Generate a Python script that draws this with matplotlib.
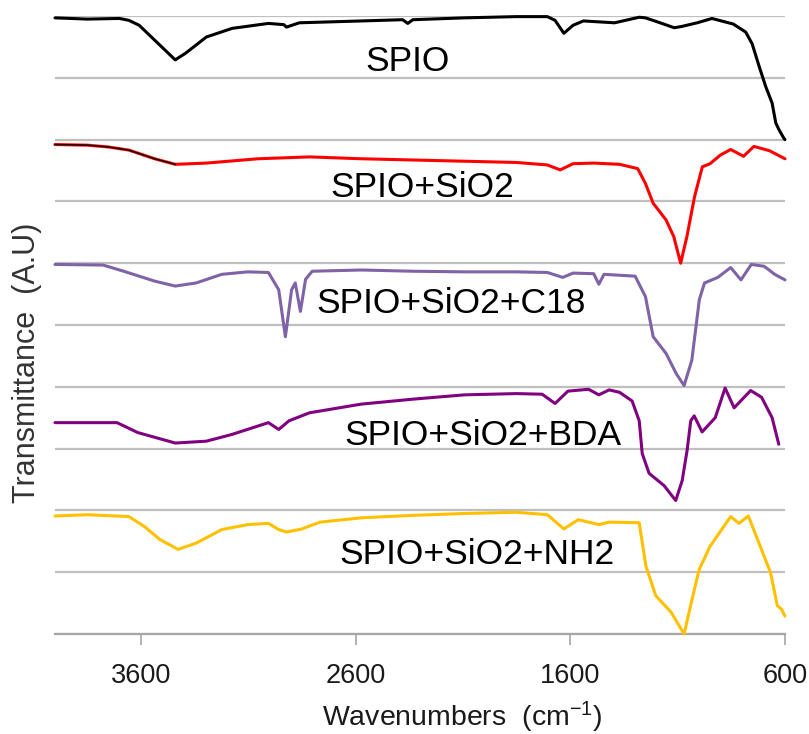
import matplotlib
matplotlib.use("Agg")
import matplotlib.pyplot as plt

plt.rcParams['font.family'] = ['Liberation Sans', 'DejaVu Sans']
plt.rcParams['mathtext.fontset'] = 'custom'
plt.rcParams['mathtext.rm'] = 'Liberation Sans'
plt.rcParams['mathtext.it'] = 'Liberation Sans'

# ---- data (wavenumber, offset transmittance in arbitrary units) ----
spio_w = [4000, 3850, 3700, 3656, 3608, 3536, 3440, 3391, 3295, 3175, 3006, 2934, 2922, 2862,
          2573, 2381, 2357, 2333, 2092, 1851, 1707, 1671, 1630, 1587, 1539, 1394, 1279, 1250,
          1190, 1116, 1082, 1009, 940, 841, 783, 753, 720, 690, 660, 643, 628, 605, 600]
spio_y = [99.7, 99.5, 99.6, 99.3, 98.5, 96.1, 92.9, 94.0, 96.6, 98.0, 98.8, 98.6, 98.2, 98.9,
          99.2, 99.4, 98.8, 99.4, 99.7, 99.9, 99.9, 99.3, 97.2, 98.5, 99.2, 98.9, 99.8, 99.7,
          99.0, 98.1, 98.3, 98.9, 99.6, 98.7, 97.4, 95.5, 91.8, 88.6, 85.9, 82.7, 81.6, 80.2, 80.0]

sio2_w = [4000, 3848, 3750, 3656, 3536, 3440, 3295, 3054, 2814, 2573, 2333, 2092, 1851, 1707,
          1647, 1587, 1491, 1370, 1286, 1250, 1214, 1154, 1118, 1086, 1057, 1021, 985, 949, 901,
          853, 793, 745, 672, 600]
sio2_y = [79.2, 79.1, 78.8, 78.3, 76.9, 76.0, 76.2, 76.9, 77.2, 76.9, 76.7, 76.5, 76.3, 75.9,
          75.1, 76.1, 76.2, 76.0, 75.3, 72.9, 69.7, 67.0, 64.3, 60.0, 64.3, 70.8, 75.6, 76.1, 77.5,
          78.4, 77.3, 78.9, 78.2, 76.9]

c18_w = [4000, 3776, 3680, 3536, 3440, 3343, 3223, 3103, 3006, 2958, 2927, 2898, 2881, 2857,
         2833, 2802, 2573, 2333, 2092, 1851, 1707, 1635, 1587, 1491, 1467, 1443, 1298, 1250,
         1214, 1154, 1106, 1070, 1034, 999, 975, 913, 853, 805, 757, 697, 648, 600]
c18_y = [59.8, 59.7, 58.7, 57.1, 56.3, 56.8, 58.2, 58.6, 58.5, 55.7, 48.1, 55.7, 56.8, 52.2,
         57.4, 58.7, 58.9, 58.7, 58.6, 58.6, 58.5, 57.7, 58.4, 58.3, 56.6, 58.2, 57.9, 54.6,
         48.1, 45.4, 42.1, 40.2, 44.3, 54.1, 56.8, 57.7, 59.3, 57.3, 59.8, 59.5, 58.2, 57.3]

bda_w = [4000, 3711, 3615, 3440, 3295, 3175, 3006, 2958, 2910, 2814, 2573, 2333, 2092, 1851,
         1731, 1671, 1611, 1515, 1467, 1419, 1370, 1312, 1279, 1265, 1233, 1163, 1109, 1079,
         1056, 1039, 1023, 986, 925, 879, 837, 760, 709, 660, 629]
bda_y = [34.2, 34.2, 32.6, 30.9, 31.2, 32.3, 34.2, 33.1, 34.5, 35.8, 37.2, 38.0, 38.7, 38.9,
         38.8, 37.3, 39.3, 39.6, 38.7, 39.5, 39.1, 37.7, 34.5, 29.2, 26.0, 24.0, 21.6, 24.8,
         29.7, 34.5, 35.3, 32.7, 35.0, 39.8, 36.6, 39.4, 38.3, 35.0, 30.7]

nh2_w = [4000, 3848, 3656, 3584, 3512, 3427, 3343, 3223, 3103, 3006, 2958, 2922, 2850, 2766,
         2573, 2333, 2092, 1851, 1707, 1630, 1563, 1467, 1419, 1279, 1248, 1202, 1130, 1070,
         1033, 1000, 949, 889, 853, 814, 771, 721, 667, 636, 616, 605, 600]
nh2_y = [19.1, 19.3, 19.0, 17.4, 15.3, 13.7, 14.7, 16.9, 17.7, 17.9, 16.9, 16.5, 17.0, 18.1,
         18.8, 19.2, 19.5, 19.7, 19.3, 17.0, 18.5, 17.7, 18.1, 18.0, 11.0, 6.2, 3.5, 0.0,
         5.6, 10.4, 14.2, 17.2, 19.0, 17.9, 19.1, 14.7, 9.9, 4.6, 4.0, 3.2, 2.9]

labels = ['SPIO', 'SPIO+SiO2', 'SPIO+SiO2+C18', 'SPIO+SiO2+BDA', 'SPIO+SiO2+NH2']
colors = ['#000000', '#FF0000', '#7F63A6', '#800080', '#FFC000']
x_ticks = [3600, 2600, 1600, 600]

series = [(spio_w, spio_y), (sio2_w, sio2_y), (c18_w, c18_y), (bda_w, bda_y), (nh2_w, nh2_y)]
label_pos = [(2358, 92.6), (2288, 72.2), (2153, 53.4), (2009, 32.2), (2037, 12.8)]

fig = plt.figure(figsize=(8.09, 7.34), dpi=100)
ax = fig.add_axes([55/809, 1-634/734, 730/809, 618/734])

for (w, y), c in zip(series, colors):
    ax.plot(w, y, color=c, lw=2.2, clip_on=False, solid_joinstyle='round',
            solid_capstyle='round', zorder=3)

# black overlay on the start of the SPIO+SiO2 trace
ow = [w for w in sio2_w if w >= 3440]
oy = sio2_y[:len(ow)]
ax.plot(ow, oy, color='black', lw=1.0, clip_on=False, zorder=4)

for (lx, ly), t in zip(label_pos, labels):
    ax.text(lx, ly, t, ha='center', va='center', fontsize=25.5, color='black', zorder=5)

ax.set_xlim(4000, 600)
ax.set_ylim(0, 100)
ax.set_xticks(x_ticks)
ax.set_xticklabels([str(t) for t in x_ticks])
ax.set_yticks(range(0, 101, 10))
ax.set_yticklabels([])
ax.tick_params(axis='y', length=0)
ax.tick_params(axis='x', length=8, width=1.2, color='#A6A6A6', pad=13,
               labelsize=19.5, labelcolor='#1a1a1a')
ax.grid(axis='y', color='#BFBFBF', lw=1.6)
ax.set_axisbelow(True)
for s in ['top', 'right', 'left']:
    ax.spines[s].set_visible(False)
ax.spines['bottom'].set_color('#A6A6A6')
ax.spines['bottom'].set_linewidth(1.6)

fig.text(462/809, 1-717/734, 'Wavenumbers  (cm$^{\\mathregular{-1}}$)', ha='center', va='center',
         fontsize=20.5, color='#1a1a1a')
fig.text(27/809, 1-363/734, 'Transmittance  (A.U)', rotation=90, ha='center', va='center',
         fontsize=22, color='#333333')

fig.savefig('out.png', dpi=100)
